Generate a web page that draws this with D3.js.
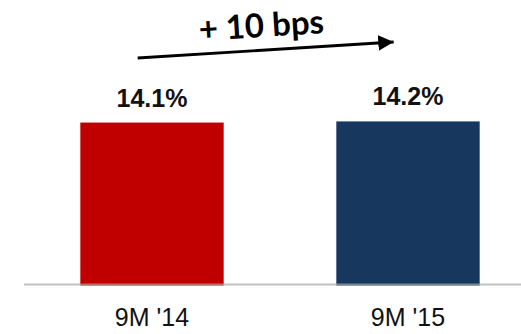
<!DOCTYPE html>
<html lang='en'>
<head>
  <meta charset='UTF-8'>
  <title>Margin</title>
  <script src='https://d3js.org/d3.v7.min.js'></script>
  <style>
    body { margin: 0; background: #fff; }
    svg { display: block; }
  </style>
</head>
<body>
  <svg width='521' height='334'></svg>
  <script>
    var categories = ['9M \'14', '9M \'15'];
    var values = [14.1, 14.2];
    var valueLabels = ['14.1%', '14.2%'];
    var colors = ['#C00000', '#17375E'];
    var changeLabel = '+ 10 bps';

    var svg = d3.select('svg'),
      baseY = 284;

    var x = d3.scaleBand()
      .domain(categories)
      .range([24, 536])
      .paddingInner(0.44)
      .paddingOuter(0.22);
    var y = d3.scaleLinear()
      .domain([0, 20])
      .range([baseY, baseY - 229]);

    // bars
    svg.selectAll('rect').data(values)
     .enter().append('rect')
      .attr('x', (d, i) => x(categories[i]))
      .attr('width', x.bandwidth())
      .attr('y', d => y(d))
      .attr('height', d => y(0) - y(d) + 1.5)
      .attr('fill', (d, i) => colors[i]);

    // baseline
    svg.append('line')
      .attr('x1', 24).attr('x2', 521)
      .attr('y1', baseY + 0.5).attr('y2', baseY + 0.5)
      .attr('stroke', '#A6A6A6')
      .attr('stroke-opacity', 0.7)
      .attr('stroke-width', 2);

    // value labels
    svg.selectAll('.val').data(values)
     .enter().append('text')
      .attr('class', 'val')
      .attr('x', (d, i) => x(categories[i]) + x.bandwidth() / 2)
      .attr('y', d => y(d) - 16)
      .attr('text-anchor', 'middle')
      .attr('font-family', 'Liberation Sans, Arial, sans-serif')
      .attr('font-weight', 'bold')
      .attr('font-size', 25)
      .attr('fill', '#111')
      .text((d, i) => valueLabels[i]);

    // category labels
    svg.selectAll('.cat').data(categories)
     .enter().append('text')
      .attr('class', 'cat')
      .attr('x', d => x(d) + x.bandwidth() / 2)
      .attr('y', 326)
      .attr('text-anchor', 'middle')
      .attr('font-family', 'Liberation Sans, Arial, sans-serif')
      .attr('font-size', 25)
      .attr('fill', '#111')
      .text(d => d);

    // change arrow
    var ax1 = x(categories[0]) + x.bandwidth() * 0.4,
      ax2 = x(categories[1]) + x.bandwidth() * 0.4,
      ay1 = 58, ay2 = 42;
    svg.append('defs').append('marker')
      .attr('id', 'head')
      .attr('viewBox', '0 0 10 10')
      .attr('refX', 10).attr('refY', 5)
      .attr('markerWidth', 5.5).attr('markerHeight', 5.5)
      .attr('markerUnits', 'strokeWidth')
      .attr('orient', 'auto')
     .append('path')
      .attr('d', 'M0,0L10,5L0,10Z')
      .attr('fill', '#000');
    svg.append('line')
      .attr('x1', ax1).attr('y1', ay1)
      .attr('x2', ax2).attr('y2', ay2)
      .attr('stroke', '#000')
      .attr('stroke-width', 2.8)
      .attr('marker-end', 'url(#head)');

    var angle = Math.atan2(ay2 - ay1, ax2 - ax1) * 180 / Math.PI;
    svg.append('text')
      .attr('transform', 'translate(262,37) rotate(' + angle + ')')
      .attr('text-anchor', 'middle')
      .attr('font-family', 'Lato, Open Sans, sans-serif')
      .attr('font-weight', 'bold')
      .attr('font-size', 33)
      .attr('fill', '#000')
      .text(changeLabel);
  </script>
</body>
</html>
